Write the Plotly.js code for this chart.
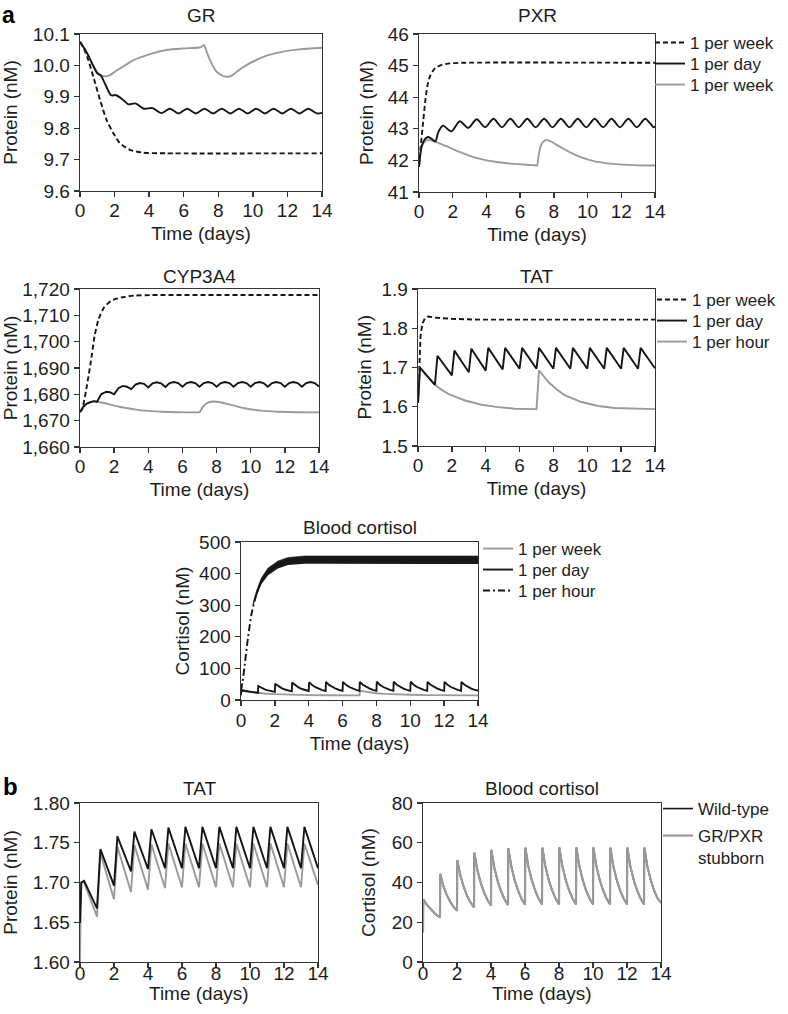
<!DOCTYPE html>
<html><head><meta charset="utf-8">
<script src="https://cdn.plot.ly/plotly-3.0.1.min.js"></script>
<style>html,body{margin:0;padding:0;background:#fff}</style>
</head><body>
<div id="chart" style="width:788px;height:1014px"></div>
<script>
// ---------------- data ----------------
// GR
const gr_week_x = [0, 0.25, 0.48, 0.77, 1.16, 1.54, 1.93, 2.31, 2.89, 3.66, 5, 14];
const gr_week_y = [10.075, 10.05, 10.017, 9.964, 9.89, 9.826, 9.784, 9.752, 9.731, 9.722, 9.72, 9.72];
const gr_day_x = [0, 0.4, 0.8, 1.0, 1.2, 1.5, 1.8, 2.1, 2.5, 2.8, 3.2, 3.7, 4.2, 4.7, 5.2, 5.7, 6.2, 6.7, 7.2, 7.7, 8.2, 8.7, 9.2, 9.7, 10.2, 10.7, 11.2, 11.7, 12.2, 12.7, 13.2, 13.7, 14];
const gr_day_y = [10.075, 10.04, 9.995, 9.975, 9.968, 9.935, 9.905, 9.905, 9.89, 9.876, 9.879, 9.862, 9.864, 9.848, 9.862, 9.847, 9.862, 9.847, 9.862, 9.847, 9.862, 9.847, 9.862, 9.847, 9.862, 9.847, 9.862, 9.847, 9.862, 9.847, 9.862, 9.847, 9.849];
const gr_hour_x = [0, 0.4, 0.8, 1.0, 1.2, 1.45, 1.7, 2.1, 2.6, 3.1, 4.05, 5.0, 6.0, 6.9, 7.05, 7.17, 7.35, 7.52, 7.9, 8.29, 8.58, 8.8, 9.07, 9.83, 10.8, 11.76, 12.7, 14];
const gr_hour_y = [10.075, 10.04, 9.995, 9.978, 9.968, 9.965, 9.968, 9.983, 10.0, 10.017, 10.036, 10.049, 10.054, 10.057, 10.06, 10.065, 10.04, 10.017, 9.98, 9.966, 9.964, 9.968, 9.98, 10.007, 10.031, 10.044, 10.051, 10.056];

// PXR
const pxr_week_x = [0, 0.1, 0.22, 0.36, 0.49, 0.65, 0.95, 1.34, 1.84, 2.5, 14];
const pxr_week_y = [41.8, 42.45, 43.08, 43.82, 44.34, 44.66, 44.92, 45.02, 45.07, 45.09, 45.09];
const pxr_day_x = [0, 0.16, 0.36, 0.55, 0.8, 0.97, 1.15, 1.42, 1.92, 2.42, 2.92, 3.42, 3.92, 4.42, 4.92, 5.42, 5.92, 6.42, 6.92, 7.42, 7.92, 8.42, 8.92, 9.42, 9.92, 10.42, 10.92, 11.42, 11.92, 12.42, 12.92, 13.42, 13.92, 14];
const pxr_day_y = [41.8, 42.45, 42.68, 42.74, 42.66, 42.6, 42.9, 43.1, 42.92, 43.24, 43.03, 43.3, 43.05, 43.32, 43.05, 43.32, 43.05, 43.32, 43.05, 43.32, 43.05, 43.32, 43.05, 43.32, 43.05, 43.32, 43.05, 43.32, 43.05, 43.32, 43.05, 43.32, 43.05, 43.07];
const pxr_hour_x = [0, 0.16, 0.35, 0.55, 0.9, 1.3, 1.64, 2.1, 2.63, 3.1, 3.62, 4.6, 5.6, 6.8, 7.0, 7.08, 7.2, 7.35, 7.55, 7.9, 8.3, 8.6, 9.1, 9.55, 10.5, 11.5, 12.7, 14];
const pxr_hour_y = [41.8, 42.45, 42.6, 42.65, 42.6, 42.52, 42.45, 42.33, 42.22, 42.13, 42.05, 41.95, 41.89, 41.85, 41.84, 42.1, 42.42, 42.58, 42.65, 42.58, 42.45, 42.36, 42.22, 42.11, 41.96, 41.89, 41.85, 41.84];

// CYP3A4
const cyp_week_x = [0, 0.12, 0.37, 0.63, 0.86, 1.09, 1.41, 1.84, 2.42, 3.2, 4.18, 14];
const cyp_week_y = [1673.3, 1674.2, 1682.0, 1692.2, 1702.3, 1708.6, 1713.0, 1715.6, 1716.8, 1717.5, 1717.7, 1717.7];
const cyp_day_x = [0, 0.2, 0.4, 0.6, 0.8, 1, 1.25, 1.55, 1.75, 2, 2.25, 2.5, 2.75, 3, 3.25, 3.5, 3.75, 4, 4.25, 4.5, 4.75, 5, 5.25, 5.5, 5.75, 6, 6.25, 6.5, 6.75, 7, 7.25, 7.5, 7.75, 8, 8.25, 8.5, 8.75, 9, 9.25, 9.5, 9.75, 10, 10.25, 10.5, 10.75, 11, 11.25, 11.5, 11.75, 12, 12.25, 12.5, 12.75, 13, 13.25, 13.5, 13.75, 14];
const cyp_day_y = [1673.3, 1675.3, 1676.5, 1677.1, 1677.4, 1677.2,
  1680.1, 1681.0, 1680.8, 1680.0,
  1682.3, 1683.2, 1682.9, 1682.0,
  1683.7, 1684.3, 1684.0, 1682.6,
  1684.2, 1684.6, 1684.2, 1682.8,
  1684.3, 1684.7, 1684.3, 1682.9,
  1684.3, 1684.7, 1684.3, 1682.9,
  1684.3, 1684.7, 1684.3, 1682.9,
  1684.3, 1684.7, 1684.3, 1682.9,
  1684.3, 1684.7, 1684.3, 1682.9,
  1684.3, 1684.7, 1684.3, 1682.9,
  1684.3, 1684.7, 1684.3, 1682.9,
  1684.3, 1684.7, 1684.3, 1682.9,
  1684.3, 1684.7, 1684.3, 1683.0];
const cyp_hour_x = [0, 0.2, 0.4, 0.6, 0.8, 1.0, 1.4, 1.84, 2.3, 2.8, 3.3, 3.8, 4.77, 5.74, 6.9, 7.0, 7.2, 7.45, 7.8, 8.2, 8.67, 9.15, 9.65, 10.6, 11.6, 12.8, 14];
const cyp_hour_y = [1673.3, 1675.3, 1676.5, 1677.1, 1677.3, 1677.2, 1676.7, 1676.0, 1675.3, 1674.7, 1674.2, 1673.8, 1673.4, 1673.2, 1673.15, 1673.2, 1675.2, 1676.7, 1677.3, 1677.0, 1676.3, 1675.5, 1674.7, 1673.8, 1673.4, 1673.2, 1673.15];

// TAT (panel a)
const tat_week_x = [0, 0.08, 0.15, 0.25, 0.4, 0.6, 1.0, 2.0, 3.5, 14];
const tat_week_y = [1.61, 1.70, 1.78, 1.81, 1.825, 1.83, 1.827, 1.824, 1.822, 1.822];
const tat_day_x = [0, 0.12, 0.45, 1.0, 1.15, 2.0, 2.15, 3.0, 3.15, 4.0, 4.15, 5.0, 5.15, 6.0, 6.15, 7.0, 7.15, 8.0, 8.15, 9.0, 9.15, 10.0, 10.15, 11.0, 11.15, 12.0, 12.15, 13.0, 13.15, 14.0];
const tat_day_y = [1.61, 1.70, 1.683, 1.656, 1.73, 1.68, 1.743, 1.688, 1.748, 1.692, 1.75, 1.695, 1.75, 1.697, 1.75, 1.697, 1.75, 1.697, 1.75, 1.697, 1.75, 1.697, 1.75, 1.697, 1.75, 1.697, 1.75, 1.697, 1.75, 1.698];
const tat_hour_x = [0, 0.1, 0.41, 1.0, 1.4, 1.79, 2.3, 2.78, 3.76, 4.74, 5.73, 6.9, 7.0, 7.15, 7.4, 7.7, 8.2, 8.68, 9.67, 10.65, 11.63, 12.8, 14];
const tat_hour_y = [1.61, 1.70, 1.684, 1.656, 1.643, 1.633, 1.624, 1.616, 1.605, 1.599, 1.595, 1.594, 1.594, 1.693, 1.678, 1.663, 1.644, 1.629, 1.612, 1.602, 1.597, 1.595, 1.594];

// Blood cortisol (panel a)
const cort_hour_x = [0, 0.1, 0.22, 0.41, 0.61, 0.9, 1.2, 1.6, 2.18, 2.78, 3.76, 5, 14];
const cort_hour_y = [30, 60, 112, 196, 270, 333, 376, 407, 428, 439, 444, 444, 443];
const cort_band_x  = [0.7, 0.9, 1.2, 1.6, 2.18, 2.78, 3.76, 5, 7, 9, 11, 14];
const cort_band_lo = [296, 325, 366, 395, 416, 427, 431, 431, 430, 431, 430, 430];
const cort_band_hi = [304, 343, 386, 418, 440, 451, 456, 456, 457, 456, 457, 456];
const cort_week_x = [0, 0.02, 0.5, 1.0, 1.5, 2, 3, 4, 5, 6, 7.0, 7.02, 7.5, 8, 8.5, 9, 10, 11, 12, 13, 14];
const cort_week_y = [15, 31.5, 26, 22.5, 20, 18.5, 16.5, 15.5, 15, 14.8, 14.7, 29, 24.5, 21.5, 19.5, 18, 16.5, 15.5, 15, 14.8, 14.7];
// daily cortisol (panel a black, panel b both genotypes)
const cort_day_x = [0, 0.02, 0.25, 0.5, 0.75, 1.0,
  1.02, 1.2, 1.4, 1.6, 1.8, 2.0,
  2.02, 2.2, 2.4, 2.6, 2.8, 3.0,
  3.02, 3.2, 3.4, 3.6, 3.8, 4.0,
  4.02, 4.2, 4.4, 4.6, 4.8, 5.0,
  5.02, 5.2, 5.4, 5.6, 5.8, 6.0,
  6.02, 6.2, 6.4, 6.6, 6.8, 7.0,
  7.02, 7.2, 7.4, 7.6, 7.8, 8.0,
  8.02, 8.2, 8.4, 8.6, 8.8, 9.0,
  9.02, 9.2, 9.4, 9.6, 9.8, 10.0,
  10.02, 10.2, 10.4, 10.6, 10.8, 11.0,
  11.02, 11.2, 11.4, 11.6, 11.8, 12.0,
  12.02, 12.2, 12.4, 12.6, 12.8, 13.0,
  13.02, 13.2, 13.4, 13.6, 13.8, 14.0];
const cort_day_y = [15, 31.5, 28.5, 26.0, 24.0, 22.5,
  44.3, 38.2, 33.7, 30.3, 27.7, 25.8,
  51.3, 43.5, 37.6, 33.2, 29.9, 27.5,
  55.0, 46.3, 39.7, 34.8, 31.1, 28.4,
  56.4, 47.3, 40.5, 35.4, 31.5, 28.7,
  57.2, 47.9, 40.9, 35.7, 31.7, 28.9,
  57.5, 48.1, 41.1, 35.9, 31.9, 29.0,
  57.5, 48.1, 41.1, 35.9, 31.9, 29.0,
  57.6, 48.2, 41.1, 35.9, 31.9, 29.0,
  57.6, 48.2, 41.1, 35.9, 31.9, 29.0,
  57.6, 48.2, 41.1, 35.9, 31.9, 29.0,
  57.5, 48.1, 41.1, 35.9, 31.9, 29.0,
  57.5, 48.1, 41.1, 35.9, 31.9, 29.0,
  57.5, 48.1, 41.1, 35.9, 32.0, 29.8];

// TAT (panel b)
const btat_wt_x = [0, 0.08, 0.24, 1.0, 1.2, 2.0, 2.2, 3.0, 3.2, 4.0, 4.2, 5.0, 5.2, 6.0, 6.2, 7.0, 7.2, 8.0, 8.2, 9.0, 9.2, 10.0, 10.2, 11.0, 11.2, 12.0, 12.2, 13.0, 13.2, 14.0];
const btat_wt_y = [1.649, 1.70, 1.702, 1.6675, 1.742, 1.696, 1.758, 1.714, 1.764, 1.717, 1.767, 1.718, 1.769, 1.718, 1.77, 1.718, 1.77, 1.718, 1.77, 1.718, 1.77, 1.718, 1.77, 1.718, 1.77, 1.718, 1.77, 1.718, 1.77, 1.718];
const btat_st_x = [0, 0.06, 0.22, 1.0, 1.2, 2.0, 2.2, 3.0, 3.2, 4.0, 4.2, 5.0, 5.2, 6.0, 6.2, 7.0, 7.2, 8.0, 8.2, 9.0, 9.2, 10.0, 10.2, 11.0, 11.2, 12.0, 12.2, 13.0, 13.2, 14.0];
const btat_st_y = [1.60, 1.70, 1.701, 1.657, 1.737, 1.679, 1.745, 1.688, 1.747, 1.691, 1.748, 1.693, 1.749, 1.694, 1.749, 1.694, 1.749, 1.694, 1.749, 1.694, 1.749, 1.694, 1.749, 1.694, 1.749, 1.694, 1.749, 1.694, 1.749, 1.697];

const x_ticks = [0, 2, 4, 6, 8, 10, 12, 14];

// ---------------- styling ----------------
const W = 788, H = 1014;
const FONT = 'Liberation Sans, Arial, Helvetica, sans-serif';
const TXT = '#1e1e1e';
const BLACK = '#151515';
const GRAY = '#9a9a9a';
const FS = 19;
const LFS = 17;
const LW = 1.9;
const DASH = '5px,3px';

function px2x(p) { return p / W; }
function px2y(p) { return 1 - p / H; }

function xax(l, r, anchor, labelShift, titleText, standoff) {
  return {
    domain: [px2x(l), px2x(r)], anchor: anchor, range: [0, 14],
    tickmode: 'array', tickvals: x_ticks,
    showline: true, linecolor: '#333', linewidth: 1.4, mirror: true,
    ticks: 'outside', ticklen: 5, tickwidth: 1.3, tickcolor: '#333',
    ticklabelstandoff: labelShift,
    showgrid: false, zeroline: false,
    tickfont: {family: FONT, size: FS, color: TXT},
    title: {text: titleText, font: {family: FONT, size: FS, color: TXT}, standoff: standoff}
  };
}
function yax(t, b, anchor, range, dtick, fmt, titleText, standoff) {
  return {
    domain: [px2y(b), px2y(t)], anchor: anchor, range: range,
    tick0: range[0], dtick: dtick, tickformat: fmt,
    showline: true, linecolor: '#333', linewidth: 1.4, mirror: true,
    ticks: 'outside', ticklen: 5, tickwidth: 1.3, tickcolor: '#333',
    showgrid: false, zeroline: false,
    tickfont: {family: FONT, size: FS, color: TXT},
    title: {text: titleText, font: {family: FONT, size: FS, color: TXT}, standoff: standoff}
  };
}

function line(x, y, xa, ya, color, opts) {
  opts = opts || {};
  const tr = {
    type: 'scatter', mode: 'lines', x: x, y: y, xaxis: xa, yaxis: ya,
    hoverinfo: 'skip',
    line: {color: color, width: opts.width || LW, dash: opts.dash || 'solid', shape: opts.shape || 'linear'},
    showlegend: !!opts.name
  };
  if (opts.smoothing) tr.line.smoothing = opts.smoothing;
  if (opts.name) { tr.name = opts.name; tr.legend = opts.legend; }
  return tr;
}

const data = [
  // GR
  line(gr_week_x, gr_week_y, 'x', 'y', BLACK, {dash: DASH, shape: 'spline', smoothing: 0.6}),
  line(gr_hour_x, gr_hour_y, 'x', 'y', GRAY, {shape: 'spline', smoothing: 0.6}),
  line(gr_day_x, gr_day_y, 'x', 'y', BLACK, {shape: 'spline', smoothing: 0.8}),
  // PXR
  line(pxr_week_x, pxr_week_y, 'x2', 'y2', BLACK, {dash: DASH, shape: 'spline', smoothing: 0.6, name: '1 per week', legend: 'legend'}),
  line(pxr_hour_x, pxr_hour_y, 'x2', 'y2', GRAY, {shape: 'spline', smoothing: 0.5, name: '1 per week', legend: 'legend3'}),
  line(pxr_day_x, pxr_day_y, 'x2', 'y2', BLACK, {shape: 'spline', smoothing: 0.8, name: '1 per day', legend: 'legend2'}),
  // CYP3A4
  line(cyp_week_x, cyp_week_y, 'x3', 'y3', BLACK, {dash: DASH, shape: 'spline', smoothing: 0.6}),
  line(cyp_hour_x, cyp_hour_y, 'x3', 'y3', GRAY, {shape: 'spline', smoothing: 0.5}),
  line(cyp_day_x, cyp_day_y, 'x3', 'y3', BLACK),
  // TAT a
  line(tat_week_x, tat_week_y, 'x4', 'y4', BLACK, {dash: DASH, name: '1 per week', legend: 'legend4'}),
  line(tat_hour_x, tat_hour_y, 'x4', 'y4', GRAY, {name: '1 per hour', legend: 'legend6'}),
  line(tat_day_x, tat_day_y, 'x4', 'y4', BLACK, {name: '1 per day', legend: 'legend5'}),
  // Blood cortisol a : hourly band
  {type: 'scatter', mode: 'lines', x: cort_band_x, y: cort_band_lo, xaxis: 'x5', yaxis: 'y5',
   line: {width: 0, color: BLACK}, hoverinfo: 'skip', showlegend: false},
  {type: 'scatter', mode: 'lines', x: cort_band_x, y: cort_band_hi, xaxis: 'x5', yaxis: 'y5',
   fill: 'tonexty', fillcolor: '#181818', line: {width: 0.5, color: BLACK}, hoverinfo: 'skip', showlegend: false},
  line(cort_hour_x, cort_hour_y, 'x5', 'y5', BLACK, {dash: '7px,3px,2px,3px', shape: 'spline', smoothing: 0.5, name: '1 per hour', legend: 'legend9'}),
  line(cort_week_x, cort_week_y, 'x5', 'y5', GRAY, {name: '1 per week', legend: 'legend7'}),
  line(cort_day_x, cort_day_y, 'x5', 'y5', BLACK, {name: '1 per day', legend: 'legend8'}),
  // TAT b
  line(btat_st_x, btat_st_y, 'x6', 'y6', GRAY),
  line(btat_wt_x, btat_wt_y, 'x6', 'y6', BLACK),
  // Blood cortisol b (wild-type hidden under the stubborn curve)
  line(cort_day_x, cort_day_y, 'x7', 'y7', BLACK, {width: 1.6, name: 'Wild-type', legend: 'legend10'}),
  line(cort_day_x, cort_day_y, 'x7', 'y7', GRAY, {width: 2.2, name: 'GR/PXR<br>stubborn', legend: 'legend11'})
];

function leg(textLeft, centerY, extra) {
  return Object.assign({
    x: px2x(textLeft - 40), y: px2y(centerY), xanchor: 'left', yanchor: 'middle',
    bgcolor: 'rgba(0,0,0,0)', borderwidth: 0, itemwidth: 30,
    font: {family: FONT, size: LFS, color: TXT}, itemclick: false, itemdoubleclick: false
  }, extra || {});
}

function label(text, cx, cy, angle) {
  return {text: text, xref: 'paper', yref: 'paper', x: px2x(cx), y: px2y(cy),
          xanchor: 'center', yanchor: 'middle', showarrow: false, textangle: angle || 0,
          font: {family: FONT, size: FS, color: TXT}};
}

const layout = {
  width: W, height: H, margin: {l: 0, r: 0, t: 0, b: 0},
  paper_bgcolor: '#fff', plot_bgcolor: '#fff',
  font: {family: FONT, size: FS, color: TXT},
  xaxis:  xax(80, 322, 'y', -3, 'Time (days)', 6),
  yaxis:  yax(34, 191, 'x', [9.6, 10.1], 0.1, '.1f', 'Protein (nM)', 14),
  xaxis2: xax(419, 655, 'y2', -3, 'Time (days)', 6),
  yaxis2: yax(34, 192, 'x2', [41, 46], 1, 'd', '', 0),
  xaxis3: xax(80, 319, 'y3', -3, 'Time (days)', 6),
  yaxis3: yax(289, 447, 'x3', [1660, 1720], 10, ',d', 'Protein (nM)', 6),
  xaxis4: xax(418, 655, 'y4', -3, 'Time (days)', 6),
  yaxis4: yax(289, 446, 'x4', [1.5, 1.9], 0.1, '.1f', '', 0),
  xaxis5: xax(241, 478, 'y5', -2, 'Time (days)', 6),
  yaxis5: yax(542, 700, 'x5', [0, 500], 100, 'd', 'Cortisol (nM)', 4),
  xaxis6: xax(80, 318, 'y6', -11, '', 0),
  yaxis6: yax(803, 962, 'x6', [1.6, 1.8], 0.05, '.2f', 'Protein (nM)', 14),
  xaxis7: xax(423, 661, 'y7', -11, '', 0),
  yaxis7: yax(803, 962, 'x7', [0, 80], 20, 'd', 'Cortisol (nM)', 11),
  legend:   leg(690, 43),
  legend2:  leg(690, 64),
  legend3:  leg(690, 85),
  legend4:  leg(692, 300),
  legend5:  leg(692, 321),
  legend6:  leg(692, 342),
  legend7:  leg(518, 549),
  legend8:  leg(518, 570),
  legend9:  leg(518, 591),
  legend10: leg(698, 809),
  legend11: leg(698, 818, {yanchor: 'top', valign: 'top'}),
  annotations: [
    {text: '<b>a</b>', xref: 'paper', yref: 'paper', x: 0, y: 1, xanchor: 'left', yanchor: 'top',
     showarrow: false, font: {family: FONT, size: 23, color: '#000'}},
    {text: '<b>b</b>', xref: 'paper', yref: 'paper', x: px2x(1), y: px2y(786), xanchor: 'left', yanchor: 'middle',
     showarrow: false, font: {family: FONT, size: 24, color: '#000'}},
    // subplot titles
    label('GR', 201, 16),
    label('PXR', 537, 16),
    label('CYP3A4', 199.5, 277),
    label('TAT', 536.5, 277),
    label('Blood cortisol', 359.5, 527),
    label('TAT', 199, 788),
    label('Blood cortisol', 542, 788),
    // axis titles placed by hand where the axis standoff cannot reach
    label('Protein (nM)', 366, 113, -90),
    label('Protein (nM)', 364, 367.5, -90),
    label('Time (days)', 199, 993),
    label('Time (days)', 542, 993)
  ]
};

Plotly.newPlot('chart', data, layout, {staticPlot: true, displayModeBar: false});
</script>
</body></html>
